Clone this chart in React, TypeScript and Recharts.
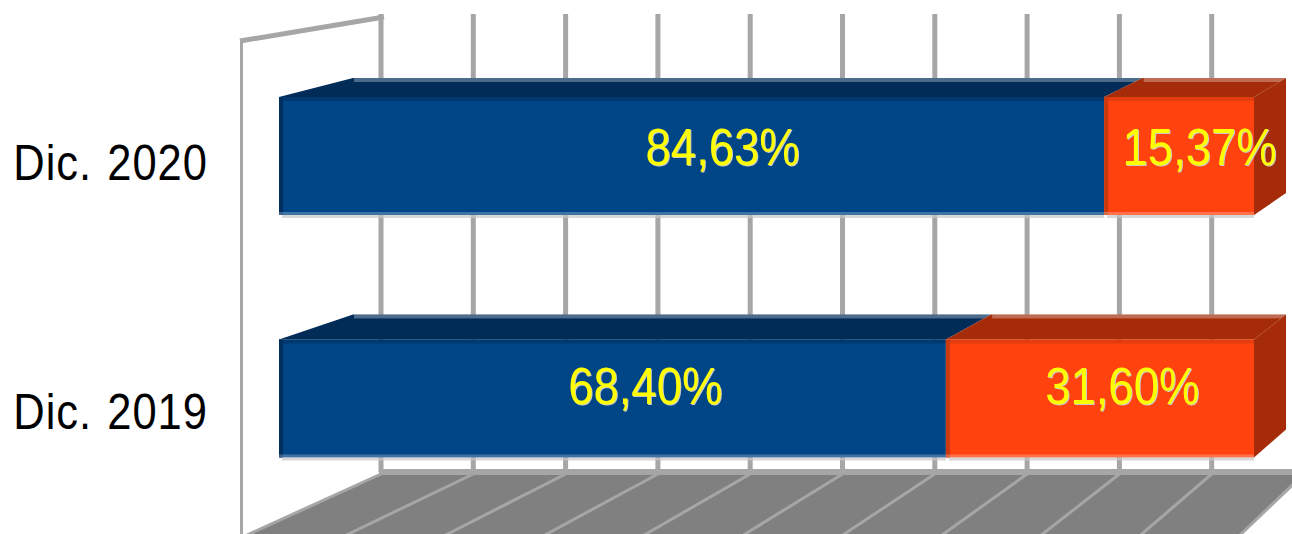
import React from "react";
import { BarChart, Bar, XAxis, YAxis, LabelList, ReferenceLine, ReferenceArea } from "recharts";

const categories = ["Dic. 2020", "Dic. 2019"];
const blueValues = [84.63, 68.4];
const orangeValues = [15.37, 31.6];
const gridTicks = [0, 10, 20, 30, 40, 50, 60, 70, 80, 90, 100];

const data = categories.map((name, i) => ({ name, blue: blueValues[i], orange: orangeValues[i] }));

const W = 1292, H = 534;
const FRONT_L = 279, FRONT_W = 975;
const GRID = "#a6a6a6";
const BLUE = { front: "#004586", top: "#012c58", edge: "#002e5e" };
const ORANGE = { front: "#ff420e", top: "#a52b09", edge: "#c93a10" };
const MARGIN = { top: 35, right: W - FRONT_L - FRONT_W, bottom: 14, left: 0 };

const depthX = (x: number) => x + 74 - ((x - FRONT_L) * 42) / FRONT_W;
const depthY = (y: number) => 78 + (y - 97) * 0.975;
const wallX = (x: number) => 381 + ((x - FRONT_L) * 923) / FRONT_W;
const floorX = (x: number) => 247 + ((x - FRONT_L) * 993) / FRONT_W;

const makeBox = (c: typeof BLUE, withSide: boolean) => (p: any) => {
  const { x, y, width: w, height: h } = p;
  const r = x + w, b = y + h;
  const by = depthY(y), bb = depthY(b);
  return (
    <g>
      <polygon points={`${x},${y} ${depthX(x)},${by} ${depthX(r)},${by} ${r},${y}`} fill={c.top} />
      <rect x={depthX(x) + 1} y={by} width={depthX(r) - depthX(x) - 1} height={4} fill="#ffffff" opacity={0.3} />
      {withSide && (
        <>
          <polygon points={`${r},${y} ${depthX(r)},${by} ${depthX(r)},${bb} ${r},${b}`} fill={c.top} />
          <rect x={depthX(r)} y={by} width={2} height={bb - by} fill="#ffffff" opacity={0.3} />
        </>
      )}
      <rect x={x} y={y} width={w} height={h} fill={c.front} />
      <rect x={x} y={y} width={w} height={4} fill={c.edge} opacity={0.55} />
      <rect x={x} y={y} width={4} height={h} fill={c.edge} />
      <rect x={x} y={b - 3} width={w} height={3} fill="#ffffff" opacity={0.25} />
      <rect x={x + 3} y={b} width={w - 3} height={3} fill="#c8c8c8" opacity={0.7} />
    </g>
  );
};

const ScaledText = ({ x, y, anchor, fill, size, text, letterSpacing, wordSpacing }: any) => (
  <text
    transform={`translate(${x},${y}) scale(1,1.14)`}
    textAnchor={anchor}
    fill={fill}
    fontFamily="'Liberation Sans', Arial, sans-serif"
    fontSize={size}
    style={{ letterSpacing, wordSpacing }}
  >
    {text}
  </text>
);

const pct = (v: number) => v.toFixed(2).replace(".", ",") + "%";

const BarLabel = (p: any) => {
  const { x, y, width: w, height: h, value } = p;
  const cx = x + w / 2;
  const lx = (cx + depthX(cx)) / 2 + 3;
  const ly = y + h / 2 + (depthY(y) - y) / 2 + 18;
  return (
    <g>
      <ScaledText x={lx + 1} y={ly + 1} anchor="middle" fill="#c9c9c9" size={45.5} text={pct(value)} />
      <ScaledText x={lx} y={ly} anchor="middle" fill="#ffff00" size={45.5} text={pct(value)} />
    </g>
  );
};

const CategoryTick = ({ y, payload }: any) => (
  <ScaledText
    x={208}
    y={180 + ((y - 156) * 249) / 242.5}
    anchor="end"
    fill="#000000"
    size={43.5}
    text={payload.value}
    letterSpacing={1}
    wordSpacing={2}
  />
);

const Backdrop = (p: any) => {
  const x0 = p.x;
  const xEnd = p.x + p.width;
  return (
    <g>
      <polygon points={`${wallX(x0)},475 ${W},475 ${W},534 ${floorX(x0)},534`} fill="#808080" />
      <polygon points={`${W},487 ${W},534 ${floorX(xEnd)},534`} fill="#ffffff" />
      <line x1={241.5} y1={40} x2={241.5} y2={534} stroke={GRID} strokeWidth={3} />
      <line x1={240} y1={41} x2={384} y2={17} stroke={GRID} strokeWidth={5} />
      <line x1={wallX(x0) - 2} y1={472} x2={W} y2={472} stroke={GRID} strokeWidth={6} />
    </g>
  );
};

const GridLine = (p: any) => {
  const x = p.x1;
  const wx = wallX(x), fx = floorX(x);
  return (
    <g>
      <line x1={wx} y1={14} x2={wx} y2={472} stroke={GRID} strokeWidth={5} />
      <line x1={wx} y1={474} x2={fx} y2={535} stroke={GRID} strokeWidth={3} />
    </g>
  );
};

const layer: React.CSSProperties = { position: "absolute", left: 0, top: 0 };

export default function App() {
  return (
    <div style={{ ...layer, width: W, height: H, background: "#ffffff" }}>
      <div style={layer}>
        <BarChart width={W} height={H} data={data} layout="vertical" margin={MARGIN}>
          <XAxis type="number" domain={[0, 100]} hide />
          <YAxis type="category" dataKey="name" width={FRONT_L} axisLine={false} tickLine={false} tick={false} />
          <Bar dataKey="blue" fill="transparent" isAnimationActive={false} />
          <ReferenceArea x1={0} x2={100} shape={Backdrop} ifOverflow="visible" />
          {gridTicks.map((t) => (
            <ReferenceLine key={t} x={t} shape={GridLine} ifOverflow="visible" />
          ))}
        </BarChart>
      </div>
      <div style={layer}>
        <BarChart width={W} height={H} data={data} layout="vertical" margin={MARGIN} barCategoryGap={0}>
          <XAxis type="number" domain={[0, 100]} hide />
          <YAxis
            type="category"
            dataKey="name"
            width={FRONT_L}
            axisLine={false}
            tickLine={false}
            tick={CategoryTick}
            interval={0}
          />
          <Bar dataKey="blue" stackId="s" barSize={118} isAnimationActive={false} shape={makeBox(BLUE, false)}>
            <LabelList dataKey="blue" content={BarLabel} />
          </Bar>
          <Bar dataKey="orange" stackId="s" barSize={118} isAnimationActive={false} shape={makeBox(ORANGE, true)}>
            <LabelList dataKey="orange" content={BarLabel} />
          </Bar>
        </BarChart>
      </div>
    </div>
  );
}
